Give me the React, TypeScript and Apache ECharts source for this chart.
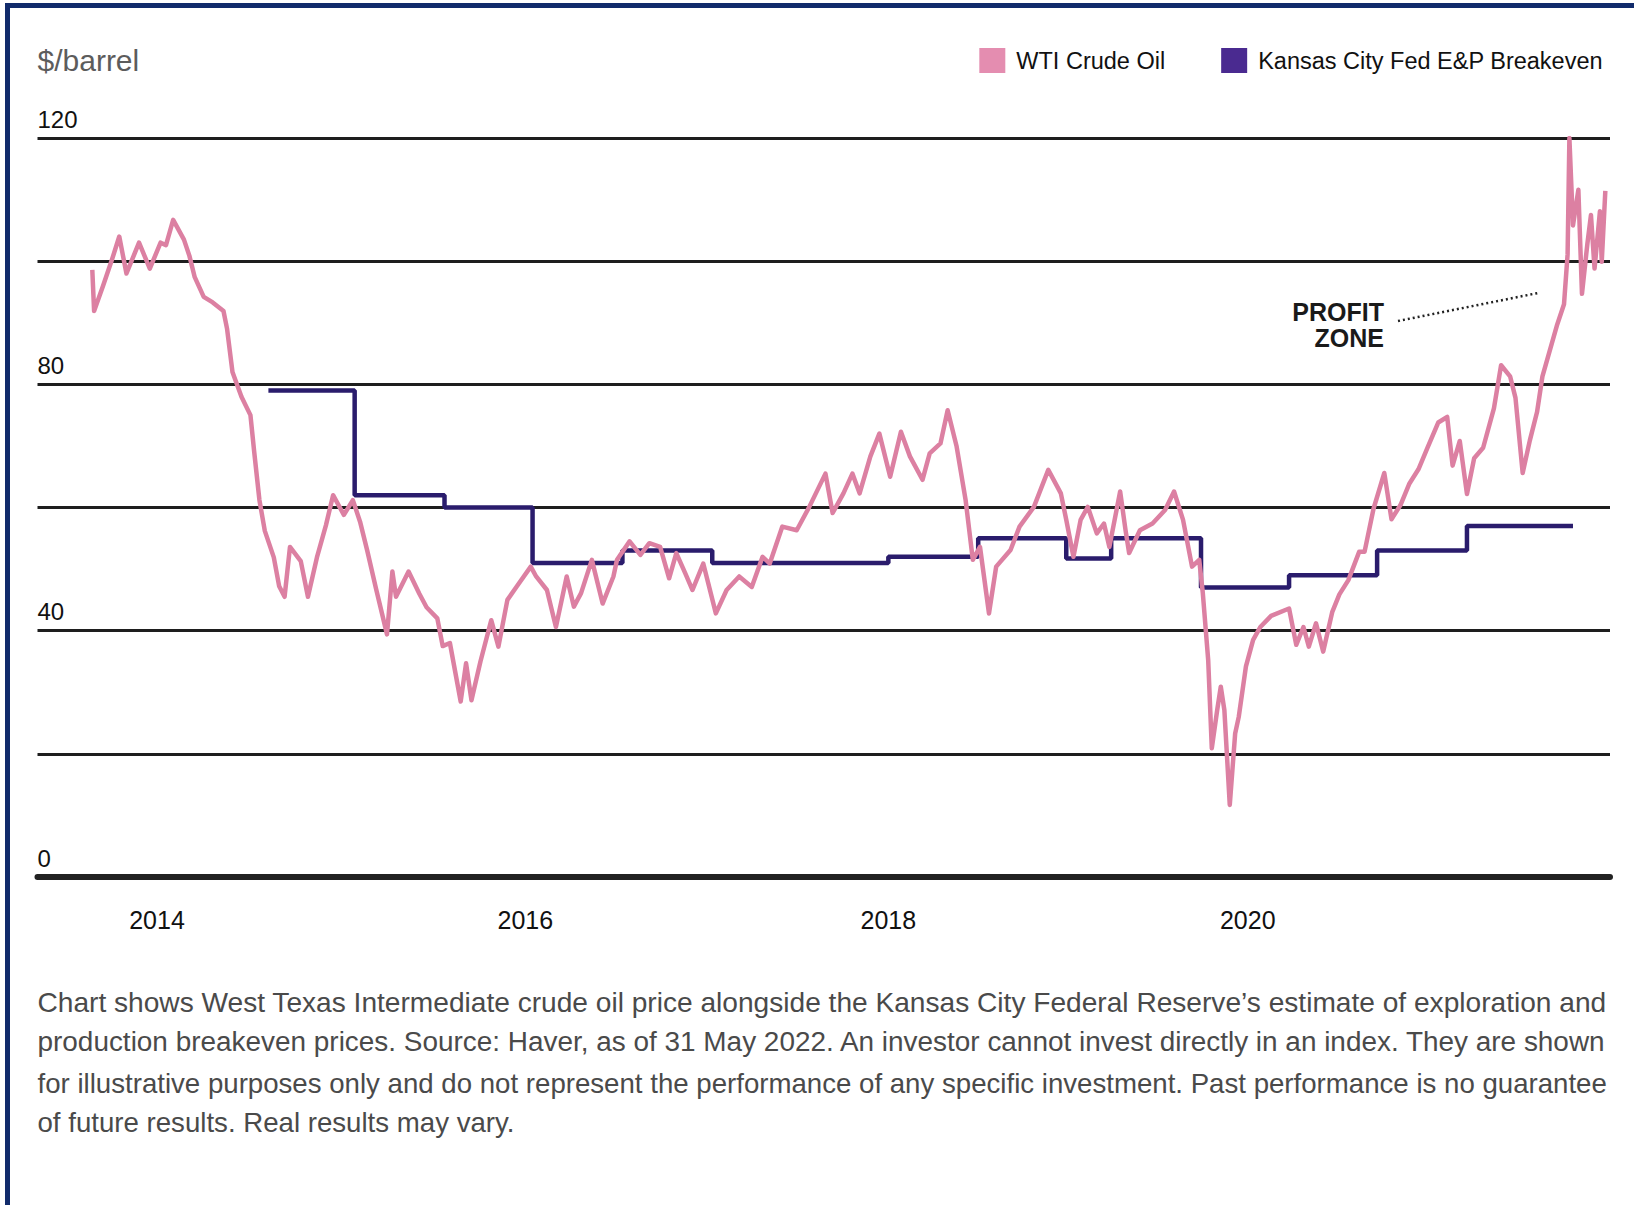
import React, { useEffect, useRef } from "react";
import * as echarts from "echarts";

// Decimal-year x values, $/barrel y values
const wti: [number, number][] = [
  [2013.99, 98.6], [2014.0, 91.9], [2014.05, 96], [2014.1, 100.3], [2014.14, 104], [2014.18, 98],
  [2014.25, 103], [2014.31, 98.8], [2014.37, 103], [2014.4, 102.6], [2014.44, 106.7], [2014.5, 103.5],
  [2014.53, 100.9], [2014.56, 97.4], [2014.61, 94.2], [2014.66, 93.3], [2014.72, 91.9], [2014.74, 89],
  [2014.77, 82], [2014.82, 78], [2014.87, 75], [2014.89, 69.3], [2014.92, 61.2], [2014.95, 56.2],
  [2015.0, 51.9], [2015.03, 47.2], [2015.06, 45.5], [2015.09, 53.6], [2015.15, 51.3], [2015.19, 45.5],
  [2015.24, 51.9], [2015.29, 57.1], [2015.33, 62], [2015.39, 58.8], [2015.44, 61.2], [2015.48, 57.7],
  [2015.52, 53], [2015.57, 46.7], [2015.63, 39.4], [2015.66, 49.6], [2015.68, 45.5], [2015.75, 49.6],
  [2015.81, 46], [2015.85, 43.8], [2015.91, 42], [2015.94, 37.5], [2015.98, 38], [2016.04, 28.5],
  [2016.07, 34.7], [2016.1, 28.7], [2016.15, 35], [2016.21, 41.7], [2016.25, 37.4], [2016.3, 45],
  [2016.35, 47.1], [2016.43, 50.4], [2016.46, 48.8], [2016.52, 46.6], [2016.57, 40.6], [2016.63, 48.8],
  [2016.67, 43.9], [2016.71, 46.1], [2016.77, 51.5], [2016.83, 44.4], [2016.89, 48.8], [2016.91, 51.5],
  [2016.98, 54.5], [2017.04, 52.3], [2017.09, 54.2], [2017.15, 53.6], [2017.2, 48.5], [2017.24, 52.6],
  [2017.29, 49.3], [2017.33, 46.6], [2017.39, 50.9], [2017.46, 42.8], [2017.52, 46.6], [2017.59, 48.8],
  [2017.66, 47.1], [2017.72, 52], [2017.76, 50.9], [2017.83, 56.9], [2017.91, 56.3], [2017.98, 60.1],
  [2018.07, 65.5], [2018.11, 59.1], [2018.17, 62.3], [2018.22, 65.5], [2018.26, 62.3], [2018.32, 68.3],
  [2018.37, 72], [2018.43, 65], [2018.49, 72.3], [2018.54, 68.3], [2018.61, 64.5], [2018.65, 68.8],
  [2018.71, 70.4], [2018.75, 75.8], [2018.8, 69.9], [2018.85, 61.2], [2018.89, 51.5], [2018.93, 53.6],
  [2018.98, 42.8], [2019.02, 50.4], [2019.1, 53.1], [2019.15, 56.9], [2019.23, 60.1], [2019.31, 66.1],
  [2019.36, 63.4], [2019.38, 62.3], [2019.41, 58], [2019.45, 52], [2019.49, 58], [2019.53, 60.1],
  [2019.58, 55.8], [2019.62, 57.4], [2019.65, 53.6], [2019.71, 62.6], [2019.74, 56.3], [2019.76, 52.6],
  [2019.82, 56.3], [2019.89, 57.4], [2019.96, 59.6], [2020.01, 62.6], [2020.06, 58], [2020.11, 50.4],
  [2020.15, 51.5], [2020.17, 46.1], [2020.2, 35.2], [2020.22, 20.9], [2020.25, 27.1], [2020.27, 30.9],
  [2020.29, 27.1], [2020.32, 11.7], [2020.35, 23.3], [2020.37, 26], [2020.41, 34.2], [2020.45, 38.5],
  [2020.49, 40.6], [2020.55, 42.4], [2020.65, 43.6], [2020.69, 37.7], [2020.73, 40.6], [2020.76, 37.4],
  [2020.8, 41.2], [2020.84, 36.6], [2020.89, 43], [2020.93, 45.9], [2020.98, 48.2], [2021.04, 52.8],
  [2021.07, 52.8], [2021.12, 59.8], [2021.18, 65.6], [2021.22, 58.1], [2021.27, 60.4], [2021.32, 63.9],
  [2021.37, 66.2], [2021.42, 69.7], [2021.48, 73.8], [2021.53, 74.7], [2021.56, 66.8], [2021.6, 70.8],
  [2021.64, 62.2], [2021.68, 68], [2021.73, 69.7], [2021.79, 76.1], [2021.83, 83.1], [2021.88, 81.3],
  [2021.91, 77.8], [2021.95, 65.6], [2021.99, 70.9], [2022.03, 75.5], [2022.06, 81.3], [2022.1, 85.4],
  [2022.14, 89.5], [2022.18, 93], [2022.2, 101.1], [2022.21, 120], [2022.23, 105.8], [2022.26, 111.6],
  [2022.28, 94.7], [2022.31, 102.8], [2022.33, 107.5], [2022.35, 98.8], [2022.38, 108.1], [2022.39, 99.9],
  [2022.41, 111.4],
];

const breakeven: [number, number][] = [
  [2014.97, 79], [2015.45, 62], [2015.95, 60], [2016.44, 51], [2016.94, 53], [2017.44, 51],
  [2018.42, 52], [2018.92, 55], [2019.41, 51.7], [2019.66, 55], [2020.16, 47], [2020.65, 49],
  [2021.14, 53], [2021.64, 57], [2022.23, 57],
];

const yearTickPositions = [2014.35, 2016.4, 2018.42, 2020.42];
const yTicks = { min: 0, max: 120, interval: 20, labelEvery: 40 };

const seriesNames = ["WTI Crude Oil", "Kansas City Fed E&P Breakeven"];
const unitLabel = "$/barrel";
const annotationLines = ["PROFIT", "ZONE"];
const footnoteLines = [
  "Chart shows West Texas Intermediate crude oil price alongside the Kansas City Federal Reserve\u2019s estimate of exploration and",
  "production breakeven prices. Source: Haver, as of 31 May 2022. An investor cannot invest directly in an index. They are shown",
  "for illustrative purposes only and do not represent the performance of any specific investment. Past performance is no guarantee",
  "of future results. Real results may vary.",
];

const FONT = "'Liberation Sans', Arial, sans-serif";

function measure(line: string, family: string): number {
  const ctx = document.createElement("canvas").getContext("2d");
  if (!ctx) return line.length * 50;
  ctx.font = `100px ${family}`;
  return ctx.measureText(line).width;
}

export default function App() {
  const ref = useRef<HTMLDivElement>(null);

  useEffect(() => {
    if (!ref.current) return;
    const chart = echarts.init(ref.current, undefined, { renderer: "svg" });
    const textWidth = 1570;
    const sizes = footnoteLines.map((l) => (100 * textWidth) / measure(l, FONT));
    const baseSize = Math.min(sizes[0], sizes[1], sizes[2]);
    const footSizes = sizes.map((s, i) => (i < 3 ? s : baseSize));
    const footCenters = [1002, 1041, 1083, 1122];

    chart.setOption({
      animation: false,
      backgroundColor: "#ffffff",
      textStyle: { fontFamily: FONT },
      legend: {
        right: 26,
        top: 43,
        itemWidth: 26,
        itemHeight: 25,
        itemGap: 56,
        icon: "rect",
        textStyle: { fontSize: 23.5, color: "#111", fontFamily: FONT, padding: [0, 0, 0, 6] },
        data: [
          { name: seriesNames[0], itemStyle: { color: "#e48db0" } },
          { name: seriesNames[1], itemStyle: { color: "#4a2a90" } },
        ],
      },
      grid: { left: 37.5, right: 24, top: 138, bottom: 328, containLabel: false },
      xAxis: {
        type: "value",
        min: 2013.685,
        max: 2022.436,
        axisLine: { show: true, onZero: false, lineStyle: { color: "#222", width: 6 } },
        axisTick: { show: false },
        splitLine: { show: false },
        axisLabel: {
          customValues: yearTickPositions,
          formatter: (v: number) => String(Math.floor(v)),
          fontSize: 25,
          color: "#111",
          margin: 30,
          fontFamily: FONT,
        },
      },
      yAxis: {
        type: "value",
        min: yTicks.min,
        max: yTicks.max,
        interval: yTicks.interval,
        axisLine: { show: false },
        axisTick: { show: false },
        splitLine: { show: true, lineStyle: { color: "#1e1e1e", width: 3 } },
        axisLabel: {
          inside: true,
          margin: 0,
          align: "left",
          verticalAlign: "bottom",
          lineHeight: 38,
          fontSize: 24,
          color: "#111",
          fontFamily: FONT,
          formatter: (v: number) => (v % yTicks.labelEvery === 0 ? String(v) : ""),
        },
      },
      series: [
        {
          type: "line",
          name: seriesNames[1],
          data: breakeven,
          step: "end",
          symbol: "none",
          itemStyle: { color: "#4a2a90" },
          lineStyle: { color: "#2a1c6c", width: 4.5 },
          z: 2,
        },
        {
          type: "line",
          name: seriesNames[0],
          data: wti,
          symbol: "none",
          itemStyle: { color: "#e48db0" },
          lineStyle: { color: "#dc80a2", width: 4.5, join: "round" },
          z: 3,
        },
      ],
      graphic: [
        { type: "rect", shape: { x: 5, y: 3, width: 1629, height: 5 }, style: { fill: "#112b6b" }, silent: true },
        { type: "rect", shape: { x: 5, y: 3, width: 5, height: 1202 }, style: { fill: "#112b6b" }, silent: true },
        {
          type: "text",
          x: 37.5,
          y: 60,
          style: { text: unitLabel, font: `30px ${FONT}`, fill: "#5c5c5c", verticalAlign: "middle", align: "left" },
        },
        ...annotationLines.map((t, i) => ({
          type: "text",
          x: 1384,
          y: 312 + i * 26,
          style: {
            text: t,
            font: `bold 25px ${FONT}`,
            fill: "#1a1a1a",
            align: "right",
            verticalAlign: "middle",
            lineHeight: 22,
          },
        })),
        {
          type: "line",
          shape: { x1: 1398, y1: 321, x2: 1538, y2: 293 },
          style: { stroke: "#222", lineWidth: 2.5, lineDash: [2, 3] },
        },
        ...footnoteLines.map((t, i) => ({
          type: "text",
          x: 37.5,
          y: footCenters[i],
          style: {
            text: t,
            font: `${footSizes[i]}px ${FONT}`,
            fill: "#4a4a4a",
            align: "left",
            verticalAlign: "middle",
            lineHeight: 34,
          },
        })),
      ],
    });
    return () => chart.dispose();
  }, []);

  return (
    <div
      ref={ref}
      style={{ position: "absolute", left: 0, top: 0, width: 1634, height: 1205, background: "#fff" }}
    />
  );
}
